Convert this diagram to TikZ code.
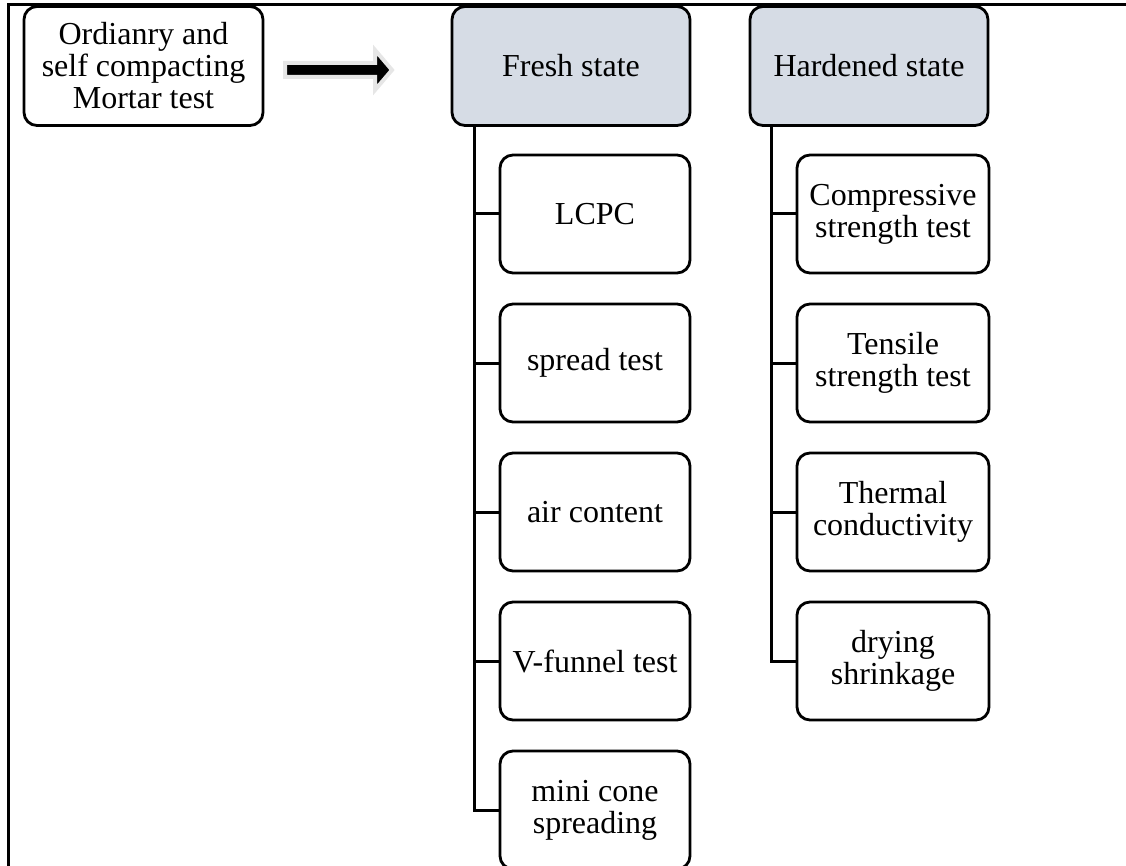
\documentclass[tikz,border=0pt]{standalone}
\usepackage{fontspec}
\setmainfont{Liberation Serif}
\definecolor{headfill}{HTML}{D6DCE5}
\definecolor{glow}{HTML}{E6E6E6}
\begin{document}
\begin{tikzpicture}[x=1pt,y=-1pt,
  box/.style={draw=black,line width=2.8pt,rounded corners=13pt,rectangle,inner sep=0pt,align=center,
    font=\fontsize{32}{32}\selectfont,text=black},
  headbox/.style={box,fill=headfill,minimum width=238pt,minimum height=119pt},
  freshbox/.style={box,fill=white,minimum width=190pt,minimum height=118pt},
  hardbox/.style={box,fill=white,minimum width=192pt,minimum height=118pt},
  link/.style={draw=black,line width=3pt},
  frame/.style={draw=black,line width=3pt}]
\useasboundingbox (0,0) rectangle (1126,866);
\draw[frame] (8,866) -- (8,5) -- (1126,5);

\node[box,fill=white,minimum width=239pt,minimum height=119pt] (main) at (143.5,66) {Ordianry and\\self compacting\\Mortar test};
\node[headbox] (fresh) at (571,66) {Fresh state};
\node[headbox] (hard) at (869,66) {Hardened state};

% arrow
\coordinate (arrowtail) at (285,70);
\path[draw=glow,line width=4pt,fill=black,line join=miter]
  (arrowtail) ++(0,-7) -- ++(90,0) -- ++(0,-13) -- (392,70) -- (375,90) -- ++(0,-13) -- (285,77) -- cycle;

% fresh children
\node[freshbox] (f1) at (595,214) {LCPC};
\node[freshbox] (f2) at (595,363) {spread test};
\node[freshbox] (f3) at (595,512) {air content};
\node[freshbox] (f4) at (595,661) {V-funnel test};
\node[freshbox] (f5) at (595,810) {mini cone\\spreading};

% hardened children
\node[hardbox] (h1) at (893,214) {Compressive\\strength test};
\node[hardbox] (h2) at (893,363) {Tensile\\strength test};
\node[hardbox] (h3) at (893,512) {Thermal\\conductivity};
\node[hardbox] (h4) at (893,661) {drying\\shrinkage};

\coordinate (fs) at ([xshift=24pt]fresh.south west);
\coordinate (hs) at ([xshift=23pt]hard.south west);
\draw[link,line join=miter] (fs) |- (f5.west);
\foreach \n in {f1,f2,f3,f4} \draw[link] (fs |- \n.west) -- (\n.west);
\draw[link,line join=miter] (hs) |- (h4.west);
\foreach \n in {h1,h2,h3} \draw[link] (hs |- \n.west) -- (\n.west);
\end{tikzpicture}
\end{document}
